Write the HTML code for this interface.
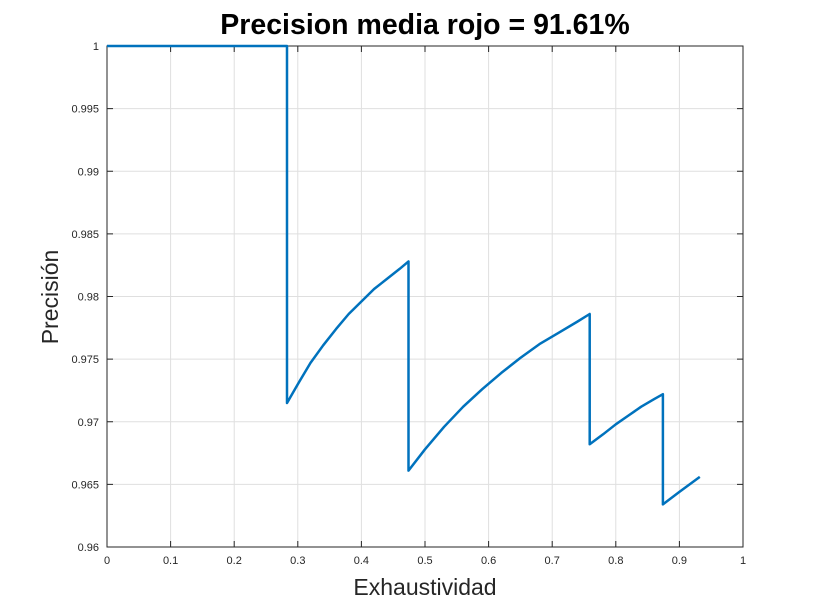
<!DOCTYPE html>
<html><head><meta charset="utf-8"><style>
body{margin:0;background:#fff;}
svg{display:block;font-family:"Liberation Sans",Arial,sans-serif;}
</style></head><body>
<svg id="chart" width="822" height="613" viewBox="0 0 822 613">
<rect width="822" height="613" fill="#fff"/>
<g id="grid"></g>
<g id="ticks"></g>
<rect x="107" y="46" width="636" height="501" fill="none" stroke="#262626" stroke-width="1"/>
<path id="curve" fill="none" stroke="#0072BD" stroke-width="2.5" stroke-linejoin="round"/>
<text x="425" y="34" text-anchor="middle" font-size="28.5" font-weight="bold" fill="#000">Precision media rojo = 91.61%</text>
<text x="425" y="595" text-anchor="middle" font-size="23" fill="#262626">Exhaustividad</text>
<text transform="translate(58,297) rotate(-90)" text-anchor="middle" font-size="23" fill="#262626">Precisión</text>
</svg>
<script>
const xTicks=[0,0.1,0.2,0.3,0.4,0.5,0.6,0.7,0.8,0.9,1];
const xTickLabels=["0","0.1","0.2","0.3","0.4","0.5","0.6","0.7","0.8","0.9","1"];
const yTicks=[0.96,0.965,0.97,0.975,0.98,0.985,0.99,0.995,1];
const yTickLabels=["0.96","0.965","0.97","0.975","0.98","0.985","0.99","0.995","1"];
const recall=[0,0.283,0.283,0.30,0.32,0.34,0.36,0.38,0.40,0.42,0.44,0.46,0.474,0.474,0.50,0.53,0.56,0.59,0.62,0.65,0.68,0.71,0.74,0.759,0.759,0.78,0.80,0.82,0.84,0.86,0.874,0.874,0.90,0.932];
const precision=[1,1,0.9715,0.9730,0.9747,0.9761,0.9774,0.9786,0.9796,0.9806,0.9814,0.9822,0.9828,0.9661,0.9678,0.9696,0.9712,0.9726,0.9739,0.9751,0.9762,0.9771,0.9780,0.9786,0.9682,0.9690,0.9698,0.9705,0.9712,0.9718,0.9722,0.9634,0.9644,0.9656];
const X0=107,X1=743,Y0=547,Y1=46;
const sx=v=>X0+(v-0)/(1-0)*(X1-X0);
const sy=v=>Y0-(v-0.96)/(1-0.96)*(Y0-Y1);
const NS="http://www.w3.org/2000/svg";
const grid=document.getElementById('grid'),ticks=document.getElementById('ticks');
function mk(tag,attrs,parent){const e=document.createElementNS(NS,tag);for(const k in attrs)e.setAttribute(k,attrs[k]);parent.appendChild(e);return e;}
xTicks.forEach((t,i)=>{const x=sx(t);
 const g=mk('line',{x1:x,x2:x,y1:Y1,y2:Y0,stroke:'#dfdfdf','stroke-width':1},grid);
 
 
 mk('line',{x1:x,x2:x,y1:Y0,y2:Y0-6,stroke:'#262626'},ticks);
 mk('line',{x1:x,x2:x,y1:Y1,y2:Y1+6,stroke:'#262626'},ticks);
 const l=mk('text',{x:x,y:Y0+17,'text-anchor':'middle','font-size':11,fill:'#262626'},ticks);
 l.textContent=xTickLabels[i];
 
 
});
yTicks.forEach((t,i)=>{const y=sy(t);
 const g=mk('line',{x1:X0,x2:X1,y1:y,y2:y,stroke:'#dfdfdf','stroke-width':1},grid);
 
 
 mk('line',{x1:X0,x2:X0+6,y1:y,y2:y,stroke:'#262626'},ticks);
 mk('line',{x1:X1,x2:X1-6,y1:y,y2:y,stroke:'#262626'},ticks);
 const l=mk('text',{x:X0-8,y:y+4,'text-anchor':'end','font-size':11,fill:'#262626'},ticks);
 l.textContent=yTickLabels[i];
 
 
});
document.getElementById('curve').setAttribute('d',recall.map((r,i)=>(i?'L':'M')+sx(r).toFixed(1)+','+sy(precision[i]).toFixed(1)).join(''));
</script>
</body></html>
